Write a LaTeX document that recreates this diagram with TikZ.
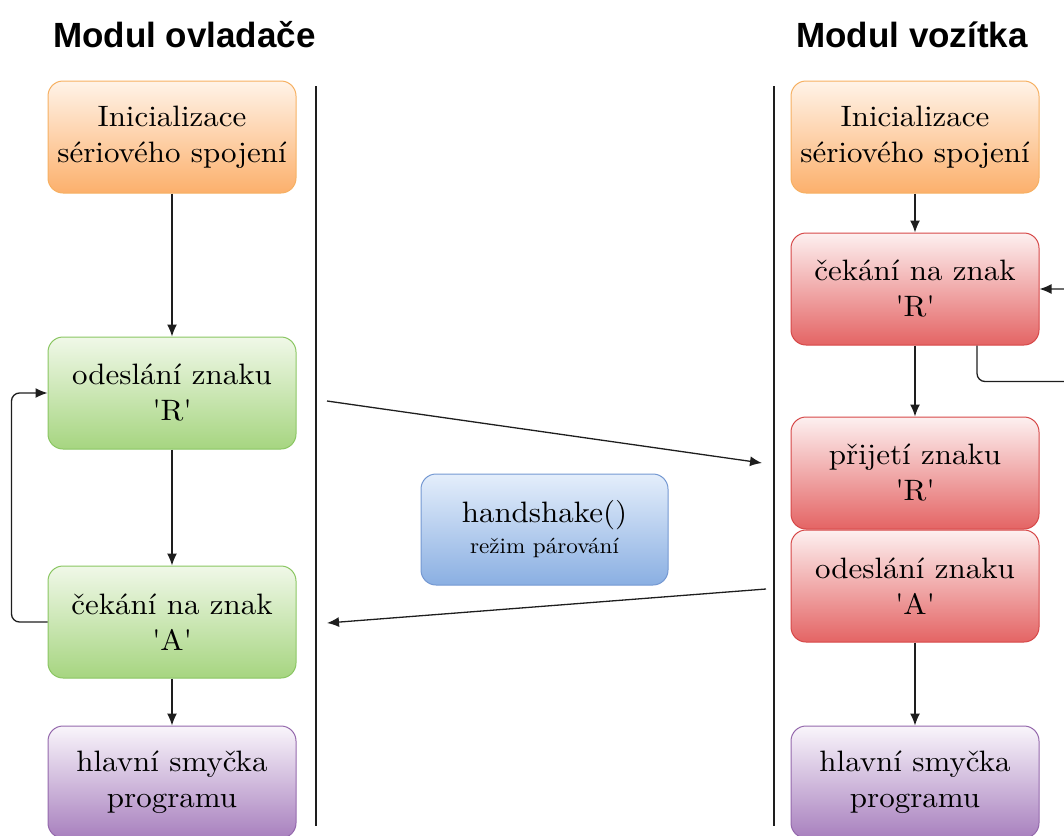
\documentclass[tikz,border=0pt]{standalone}
\usepackage{fontspec}
\newfontfamily\headfont{Liberation Sans}
\newfontfamily\boxfont{lmroman10-regular}[Extension=.otf,FakeStretch=1.05]
\usetikzlibrary{arrows.meta}
\definecolor{ortop}{RGB}{255,243,232}
\definecolor{orbot}{RGB}{252,176,108}
\definecolor{ordraw}{RGB}{246,176,98}
\definecolor{grtop}{RGB}{240,248,232}
\definecolor{grbot}{RGB}{166,213,128}
\definecolor{grdraw}{RGB}{138,198,98}
\definecolor{rdtop}{RGB}{253,240,240}
\definecolor{rdbot}{RGB}{228,100,100}
\definecolor{rddraw}{RGB}{214,72,72}
\definecolor{putop}{RGB}{249,245,251}
\definecolor{pubot}{RGB}{168,128,190}
\definecolor{pudraw}{RGB}{148,104,172}
\definecolor{bltop}{RGB}{228,238,251}
\definecolor{blbot}{RGB}{138,175,226}
\definecolor{bldraw}{RGB}{116,152,210}
\definecolor{linec}{RGB}{30,30,30}
\newcommand{\qs}[1]{\textquotesingle#1\textquotesingle}

\begin{document}
\begin{tikzpicture}[x=1pt,y=1pt,
  box/.style={rounded corners=15pt,minimum width=248pt,minimum height=112pt,
    inner sep=0pt,align=center,line width=1pt,font=\boxfont\fontsize{29.5}{36}\selectfont},
  initbox/.style={box,draw=ordraw,top color=ortop,bottom color=orbot},
  sendbox/.style={box,draw=grdraw,top color=grtop,bottom color=grbot},
  recvbox/.style={box,draw=rddraw,top color=rdtop,bottom color=rdbot},
  mainbox/.style={box,draw=pudraw,top color=putop,bottom color=pubot},
  hsbox/.style={box,minimum width=247pt,minimum height=111pt,draw=bldraw,top color=bltop,bottom color=blbot},
  title/.style={anchor=base,font=\headfont\bfseries\fontsize{35}{40}\selectfont},
  flow/.style={draw=linec,line width=1.3pt,-{Latex[length=12pt,width=10pt]}},
  sep/.style={draw=linec,line width=1.2pt}]
\clip (0,0) rectangle (1064,-835);

% nadpisy
\node[title] (t1) at (184.5,-47) {Modul ovladače};
\node[title] (t2) at (912,-47) {Modul vozítka};

% oddelovace
\draw[sep] (316,-86) -- (316,-826);
\draw[sep] (774,-86) -- (774,-826);

% modul ovladace
\node[initbox] (ini1) at (172,-137) {Inicializace\\sériového spojení};
\node[sendbox] (ode1) at (172,-393) {odeslání znaku\\\qs{R}};
\node[sendbox] (cek1) at (172,-622) {čekání na znak\\\qs{A}};
\node[mainbox] (hl1) at (172,-782) {hlavní smyčka\\programu};

% modul vozitka
\node[initbox] (ini2) at (915,-137) {Inicializace\\sériového spojení};
\node[recvbox] (cek2) at (915,-289) {čekání na znak\\\qs{R}};
\node[recvbox] (pri2) at (915,-473) {přijetí znaku\\\qs{R}};
\node[recvbox] (ode2) at (915,-586) {odeslání znaku\\\qs{A}};
\node[mainbox] (hl2) at (915,-782) {hlavní smyčka\\programu};

\node[hsbox] (hs) at (544.5,-529.5) {\fontsize{29.5}{36}\selectfont handshake()\\[-5pt]{\fontsize{22}{28}\selectfont režim párování}};

\draw[flow] (ini1) -- (ode1);
\draw[flow] (ode1) -- (cek1);
\draw[flow] (cek1) -- (hl1);
\draw[flow,rounded corners=8pt] (cek1.west) -- ++(-36,0) |- (ode1.west);

\draw[flow] (ini2) -- (cek2);
\draw[flow] (cek2) -- (pri2);
\draw[flow] (ode2) -- (hl2);
\draw[flow,rounded corners=8pt] ([xshift=62pt]cek2.south) -- ++(0,-36) -- ++(120,0) |- (cek2.east);

% prenos znaku
\coordinate (rs) at (327,-401);
\coordinate (re) at (762,-463);
\coordinate (as) at (766,-589);
\coordinate (ae) at (327,-623);
\draw[flow] (rs) -- (re);
\draw[flow] (as) -- (ae);
\end{tikzpicture}
\end{document}
